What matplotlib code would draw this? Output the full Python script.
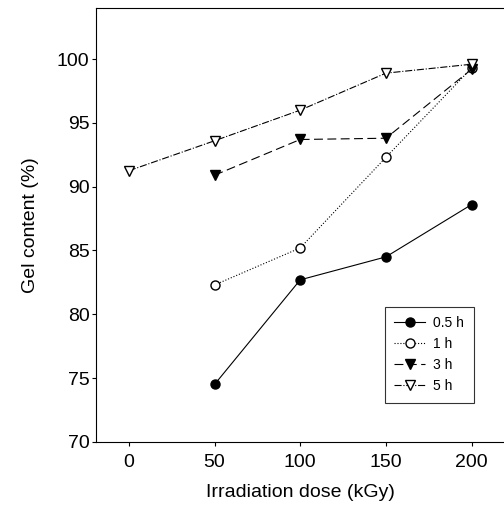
import matplotlib
matplotlib.use("Agg")
import matplotlib.pyplot as plt

plt.rcParams["font.family"] = ["Liberation Sans", "DejaVu Sans"]

dose = [0, 50, 100, 150, 200]
dose_05h = [50, 100, 150, 200]
gel_05h = [74.5, 82.7, 84.5, 88.6]
dose_1h = [50, 100, 150, 200]
gel_1h = [82.3, 85.2, 92.3, 99.3]
dose_3h = [50, 100, 150, 200]
gel_3h = [90.9, 93.7, 93.8, 99.2]
dose_5h = [0, 50, 100, 150, 200]
gel_5h = [91.25, 93.6, 96.0, 98.9, 99.6]

fig = plt.figure(figsize=(5.04, 5.05), dpi=100)
ax = fig.add_axes([0.19, 0.125, 0.812, 0.859])

ax.plot(dose_05h, gel_05h, "-", color="black", lw=0.8, marker="o",
        ms=6.5, mfc="black", mec="black", label="0.5 h")
ax.plot(dose_1h, gel_1h, ":", color="black", lw=0.8, marker="o",
        ms=6.5, mfc="white", mec="black", label="1 h")
ax.plot(dose_3h, gel_3h, "--", color="black", lw=0.8, marker="v",
        ms=7.5, mfc="black", mec="black", dashes=(8, 4), label="3 h")
ax.plot(dose_5h, gel_5h, "-.", color="black", lw=0.8, marker="v",
        ms=7.5, mfc="white", mec="black", label="5 h")

ax.set_xlim(-19.3, 219.5)
ax.set_ylim(70, 104)
ax.set_xticks(dose)
ax.set_yticks([70, 75, 80, 85, 90, 95, 100])
ax.spines["right"].set_visible(False)
ax.tick_params(direction="out", length=3, width=0.8, labelsize=14)
ax.tick_params(axis="x", pad=6)
ax.tick_params(axis="y", pad=1.5)
ax.set_xlabel("Irradiation dose (kGy)", fontsize=14, labelpad=9)
ax.set_ylabel("Gel content (%)", fontsize=14, labelpad=13)

leg = ax.legend(loc="lower right", bbox_to_anchor=(0.924, 0.09), fontsize=10,
                frameon=True, fancybox=False, edgecolor="black",
                handlelength=2.2, handletextpad=0.6, labelspacing=0.5,
                borderpad=0.7, borderaxespad=0)
leg.get_frame().set_linewidth(0.8)

fig.savefig("out.png", dpi=100)
